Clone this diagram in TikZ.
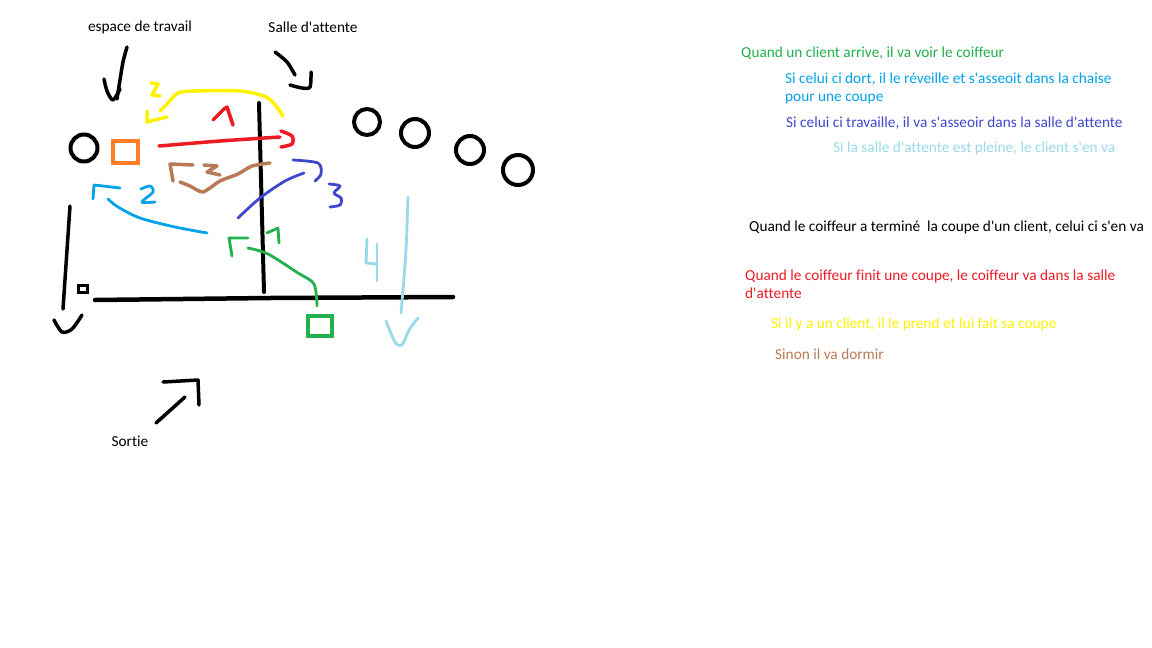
\documentclass[tikz,border=0pt]{standalone}
\usepackage{fontspec}
\setmainfont{Carlito}[Ligatures={TeXOff,CommonOff}]
\usetikzlibrary{calc}

% couleurs de Paint
\definecolor{pvert}{RGB}{34,177,76}
\definecolor{pbleu}{RGB}{0,162,232}
\definecolor{pindigo}{RGB}{63,72,204}
\definecolor{pturq}{RGB}{153,217,234}
\definecolor{prouge}{RGB}{237,28,36}
\definecolor{pjaune}{RGB}{255,242,0}
\definecolor{pbrun}{RGB}{185,122,87}
\definecolor{porange}{RGB}{255,127,39}

\tikzset{
  pen/.style={line width=3.5pt, line cap=round, line join=round},
  thinpen/.style={line width=2.8pt, line cap=round, line join=round},
  note/.style={anchor=west, inner sep=0pt, font=\fontsize{15.3}{18}\selectfont, align=left}
}

\begin{document}
\begin{tikzpicture}[x=1pt, y=-1pt]
    \useasboundingbox[fill=white] (0,0) rectangle (1152,648);

    % Titres
    \node[note, anchor=center] (travail) at (140,27) {espace de travail};
    \node[note, anchor=center] (attente) at (313,27) {Salle d'attente};
    \node[note, anchor=center] (sortie) at (130,441) {Sortie};

    % Fleches noires vers les zones
    \draw[pen] plot[smooth] coordinates {(127,47) (123,62) (120,80) (117,99)};
    \draw[pen] plot[smooth] coordinates {(104,79) (107,91) (113,100) (120,89)};
    \draw[pen] plot[smooth] coordinates {(275,52) (287,62) (295,75)};
    \draw[pen] plot[smooth] coordinates {(290,85) (302,88) (310,87) (311,72)};
    \draw[pen] (156,423) -- (185,397);
    \draw[pen] (163,382) -- (198,380) -- (199,405);

    % Coiffeur, chaise, clients
    \draw[pen, line width=4pt] (84,148) circle (13.5);
    \draw[pen, line width=4pt, porange, line cap=butt, line join=miter] (113,141) rectangle (138,163);
    \foreach \cx/\cy/\r in {367/122/13, 415/133/14, 470/150/14, 518/170/15}
        \draw[pen, line width=4pt] (\cx,\cy) circle (\r);

    % Murs
    \draw[pen, line width=4pt] (259,103) -- (264,292);
    \draw[pen, line width=4.5pt] (95,300) -- (270,298) -- (453,297);
    \draw[pen, line width=3pt, line cap=butt, line join=miter] (78,285) rectangle (87,292);

    % Sortie a gauche
    \draw[pen] (70,206) -- (63,309);
    \draw[pen] plot[smooth] coordinates {(54,320) (62,332) (72,329) (82,315)};

    % 1 - client qui arrive (vert)
    \draw[thinpen, pvert] plot[smooth] coordinates {(317,306) (314,284) (298,273) (268,254) (248,248)};
    \draw[thinpen, pvert] (248,238) -- (229,238) -- (232,256);
    \draw[thinpen, pvert] (267,233) -- (278,228) -- (279,243);
    \draw[pen, line width=4pt, pvert, line cap=butt, line join=miter] (308,316) rectangle (332,336);

    % 2 - vers la chaise (bleu)
    \draw[thinpen, pbleu] plot[smooth] coordinates {(207,233) (175,227) (140,218) (118,207) (108,199)};
    \draw[thinpen, pbleu] (120,188) -- (94,185) -- (93,199);
    \draw[thinpen, pbleu] plot[smooth] coordinates {(141,189) (150,186) (153,192) (142,202) (155,202)};

    % 3 - vers la salle d'attente (indigo)
    \draw[thinpen, pindigo] plot[smooth] coordinates {(238,218) (260,198) (285,181) (304,173)};
    \draw[thinpen, pindigo] plot[smooth] coordinates {(293,160) (318,163) (321,174) (315,181)};
    \draw[thinpen, pindigo] plot[smooth] coordinates {(329,184) (340,186) (334,193) (341,198) (340,205) (330,207)};

    % 4 - salle pleine (turquoise)
    \draw[thinpen, pturq] plot[smooth] coordinates {(408,197) (406,250) (403,290) (401,313)};
    \draw[thinpen, pturq] plot[smooth] coordinates {(386,321) (395,342) (402,345) (409,330) (418,318)};
    \draw[thinpen, pturq] (367,239) -- (366,263) -- (377,264);
    \draw[thinpen, pturq] (377,244) -- (377,281);

    % Coiffeur vers la salle (rouge)
    \draw[pen, prouge] plot[smooth] coordinates {(159,146) (220,141) (280,137)};
    \draw[pen, prouge] plot[smooth] coordinates {(281,131) (292,136) (292,144) (281,147)};
    \draw[pen, prouge] (213,120) -- (224,109) -- (227,107) -- (233,125);

    % Il prend un client (jaune)
    \draw[pen, pjaune] plot[smooth] coordinates {(283,116) (268,98) (240,91) (195,91) (178,93) (168,103) (160,111)};
    \draw[pen, pjaune] (147,111) -- (147,122) -- (167,117);
    \draw[pen, pjaune] (151,83) -- (158,84) -- (152,95) -- (160,96);

    % Sinon il dort (brun)
    \draw[pen, pbrun] plot[smooth, tension=0.4] coordinates {(270,163) (252,166) (238,174) (220,181) (203,192) (190,186) (180,182)};
    \draw[pen, pbrun] (193,165) -- (170,164) -- (173,181);
    \draw[pen, pbrun] (204,165) -- (217,166) -- (207,172) -- (220,175);

    % Explications
    \node[note, text=pvert] (arrive) at (741,53) {Quand un client arrive, il va voir le coiffeur};
    \node[note, text=pbleu, anchor=north west] (dort) at (785,73) {Si celui ci dort, il le réveille et s'asseoit dans la chaise\\pour une coupe};
    \node[note, text=pindigo] (travaille) at (786,123) {Si celui ci travaille, il va s'asseoir dans la salle d'attente};
    \node[note, text=pturq] (pleine) at (833,148) {Si la salle d'attente est pleine, le client s'en va};
    \node[note] (termine) at (749,227) {Quand le coiffeur a terminé\ \ la coupe d'un client, celui ci s'en va};
    \node[note, text=prouge, anchor=north west] (finit) at (745,270) {Quand le coiffeur finit une coupe, le coiffeur va dans la salle\\d'attente};
    \node[note, text=pjaune] (prend) at (771,324) {Si il y a un client, il le prend et lui fait sa coupe};
    \node[note, text=pbrun] (dormir) at (775,354) {Sinon il va dormir};

\end{tikzpicture}
\end{document}
